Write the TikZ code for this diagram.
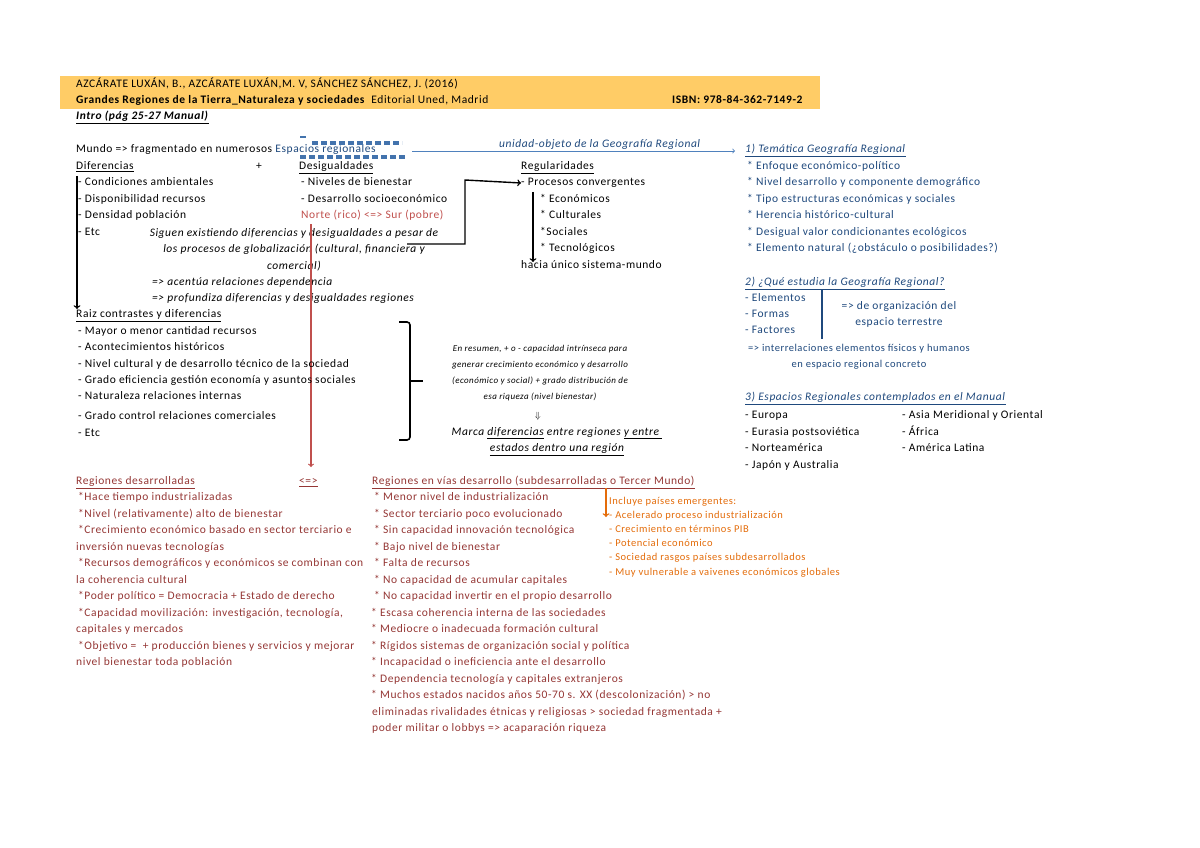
\documentclass[tikz,border=0pt]{standalone}
\usepackage{fontspec}
\setmainfont{Carlito}[LetterSpace=5]
\definecolor{hdrgold}{RGB}{255,204,102}
\definecolor{navy}{RGB}{31,73,125}
\definecolor{arrowblue}{RGB}{79,129,189}
\definecolor{brick}{RGB}{192,80,77}
\definecolor{maroon}{RGB}{149,55,53}
\definecolor{amber}{RGB}{228,108,10}
\begin{document}
\begin{tikzpicture}[x=1pt,y=-1pt,
  txt/.style={anchor=west,inner sep=0pt,text height=8pt,text depth=2.5pt,font=\fontsize{11.5}{16.5}\selectfont},
  mid/.style={inner sep=0pt,align=center,font=\fontsize{11.5}{16.5}\selectfont},
  note/.style={inner sep=0pt,align=center,font=\fontsize{9}{16.2}\selectfont\itshape},
  orng/.style={anchor=west,inner sep=0pt,text height=7pt,text depth=2pt,text=amber,font=\fontsize{10.5}{14}\selectfont},
  scribble/.style={arrowblue!75!navy,line width=3.5pt,dash pattern=on 6pt off 3pt},
  barrow/.style={->,arrowblue,thick},
  karrow/.style={->,line width=1.4pt}]
\useasboundingbox (0,0) rectangle (1200,848);
\fill[white] (0,0) rectangle (1200,848);

% header
\fill[hdrgold] (60,76) rectangle (820,109);
\node[txt] (auth) at (76,85) {AZCÁRATE LUXÁN, B., AZCÁRATE LUXÁN,M. V, SÁNCHEZ SÁNCHEZ, J. (2016)};
\node[txt] (title) at (76,101) {\textbf{Grandes Regiones de la Tierra\_Naturaleza y sociedades}\ \ Editorial Uned, Madrid};
\node[txt] (isbn) at (672,101) {\textbf{ISBN: 978-84-362-7149-2}};
\node[txt] (intro) at (76,117) {\underline{\textbf{\textit{Intro (pág 25-27 Manual)}}}};

% mundo
\node[txt] (mundo) at (76,150) {Mundo => fragmentado en numerosos \textcolor{navy}{Espacios regionales}};
\draw[scribble] (312,143) -- (402,143);
\draw[scribble] (300,157) -- (406,157);
\draw[arrowblue!75!navy,line width=2pt] (300,137) -- (306,137);
\coordinate (scrEnd) at (412,151);
\coordinate (unidad) at (735,151);
\draw[barrow] (scrEnd) -- (unidad);
\node[txt,text=navy] (uobj) at (499,145) {\itshape unidad-objeto de la Geografía Regional};

% diferencias / desigualdades
\node[txt] (dif) at (76,167) {\underline{Diferencias}};
\node[txt] (plus) at (256,167) {+};
\node[txt] (desig) at (299,167) {\underline{Desigualdades}};
\node[txt] (dif1) at (78,183) {- Condiciones ambientales};
\node[txt] (dif2) at (78,200) {- Disponibilidad recursos};
\node[txt] (dif3) at (78,216) {- Densidad población};
\node[txt] (dif4) at (78,233) {- Etc};
\node[txt] (des1) at (301,183) {- Niveles de bienestar};
\node[txt] (des2) at (301,200) {- Desarrollo socioeconómico};
\node[txt,text=brick] (norte) at (301,216) {Norte (rico) <=> Sur (pobre)};
\node[mid,font=\fontsize{11.5}{16.5}\selectfont\itshape] (glob) at (294,249.5)
  {Siguen existiendo diferencias y desigualdades a pesar de\\los procesos de globalización (cultural, financiera y\\comercial)};
\node[txt,font=\fontsize{11.5}{16.5}\selectfont\itshape] (acent) at (152,283) {=> acentúa relaciones dependencia};
\node[txt,font=\fontsize{11.5}{16.5}\selectfont\itshape] (profu) at (152,299) {=> profundiza diferencias y desigualdades regiones};

% regularidades
\node[txt] (regul) at (521,167) {\underline{Regularidades}};
\node[txt] (proc) at (521,183) {- Procesos convergentes};
\node[txt] (reg1) at (540,200) {* Económicos};
\node[txt] (reg2) at (540,216) {* Culturales};
\node[txt] (reg3) at (540,233) {*Sociales};
\node[txt] (reg4) at (540,249) {* Tecnológicos};
\node[txt] (hacia) at (521,266) {hacia único sistema-mundo};

% connectors of the upper block
\coordinate (difTop) at (77,176);
\coordinate (difBot) at (77,309);
\draw[karrow] (difTop) -- (difBot);
\coordinate (globEnd) at (407,244);
\draw[karrow] (globEnd) -| (465,180) -- (proc.west);
\coordinate (procTop) at (533,192);
\coordinate (procBot) at (533,262);
\draw[karrow] (procTop) -- (procBot);
\coordinate (norteBot) at (311,224);
\coordinate (redTip) at (311,467);
\draw[->,brick,line width=1.2pt] (norteBot) -- (redTip);

% raiz
\node[txt] (raiz) at (76,315) {\underline{Raiz contrastes y diferencias}};
\node[txt] (rz1) at (78,332) {- Mayor o menor cantidad recursos};
\node[txt] (rz2) at (78,348) {- Acontecimientos históricos};
\node[txt] (rz3) at (78,365) {- Nivel cultural y de desarrollo técnico de la sociedad};
\node[txt] (rz4) at (78,381) {- Grado eficiencia gestión economía y asuntos sociales};
\node[txt] (rz5) at (78,397) {- Naturaleza relaciones internas};
\node[txt] (rz6) at (78,417) {- Grado control relaciones comerciales};
\node[txt] (rz7) at (78,434) {- Etc};
\draw[line width=1.6pt,rounded corners=3pt] (399,322) -- (410,322) -- (410,440) -- (399,440);
\draw[line width=1.6pt] (410,381) -- (423,381);

% resumen
\node[note] (resum) at (540,373)
  {En resumen, + o - capacidad intrínseca para\\generar crecimiento económico y desarrollo\\(económico y social) + grado distribución de\\esa riqueza (nivel bienestar)};
\node[inner sep=0pt,font=\fontsize{9}{10}\selectfont] (darr) at (538,416) {$\Downarrow$};
\node[mid,font=\fontsize{11.5}{16.5}\selectfont\itshape] (marca) at (557,441.5)
  {Marca \underline{diferencias} entre regiones \underline{y entre }\\\underline{estados dentro una región}};

% right column
\node[txt,text=navy] (tema) at (745,150) {\underline{\textit{1) Temática Geografía Regional}}};
\node[txt,text=navy] (tm1) at (747,167) {* Enfoque económico-político};
\node[txt,text=navy] (tm2) at (747,183) {* Nivel desarrollo y componente demográfico};
\node[txt,text=navy] (tm3) at (747,200) {* Tipo estructuras económicas y sociales};
\node[txt,text=navy] (tm4) at (747,216) {* Herencia histórico-cultural};
\node[txt,text=navy] (tm5) at (747,233) {* Desigual valor condicionantes ecológicos};
\node[txt,text=navy] (tm6) at (747,249) {* Elemento natural (¿obstáculo o posibilidades?)};

\node[txt,text=navy] (estud) at (745,283) {\underline{\textit{2) ¿Qué estudia la Geografía Regional?}}};
\node[txt,text=navy] (el1) at (745,299) {- Elementos};
\node[txt,text=navy] (el2) at (745,315) {- Formas};
\node[txt,text=navy] (el3) at (745,331) {- Factores};
\coordinate (barTop) at (822,290);
\coordinate (barBot) at (822,339);
\draw[navy,line width=1.6pt] (barTop) -- (barBot);
\node[mid,text=navy] (organ) at (899,314.5) {=> de organización del\\espacio terrestre};
\node[inner sep=0pt,align=center,text=navy,font=\fontsize{10.5}{16}\selectfont] (inter) at (859,357)
  {=> interrelaciones elementos físicos y humanos\\en espacio regional concreto};

\node[txt,text=navy] (espac) at (745,398) {\underline{\textit{3) Espacios Regionales contemplados en el Manual}}};
\node[txt] (es1) at (745,416) {- Europa};
\node[txt] (es2) at (745,433) {- Eurasia postsoviética};
\node[txt] (es3) at (745,449) {- Norteamérica};
\node[txt] (es4) at (745,466) {- Japón y Australia};
\node[txt] (es5) at (902,416) {- Asia Meridional y Oriental};
\node[txt] (es6) at (902,433) {- África};
\node[txt] (es7) at (902,449) {- América Latina};

% regiones desarrolladas
\begin{scope}[every node/.append style={text=maroon}]
\node[txt] (desar) at (76,482) {\underline{Regiones desarrolladas}};
\node[txt] (equiv) at (299,482) {\underline{<=>}};
\node[txt] (dz1) at (78,498) {*Hace tiempo industrializadas};
\node[txt] (dz2) at (78,515) {*Nivel (relativamente) alto de bienestar};
\node[txt] (dz3) at (78,531) {*Crecimiento económico basado en sector terciario e};
\node[txt] (dz3b) at (76,548) {inversión nuevas tecnologías};
\node[txt] (dz4) at (78,564) {*Recursos demográficos y económicos se combinan con};
\node[txt] (dz4b) at (76,581) {la coherencia cultural};
\node[txt] (dz5) at (78,597) {*Poder político = Democracia + Estado de derecho};
\node[txt] (dz6) at (78,614) {*Capacidad movilización: investigación, tecnología,};
\node[txt] (dz6b) at (76,630) {capitales y mercados};
\node[txt] (dz7) at (78,647) {*Objetivo = \ + producción bienes y servicios y mejorar};
\node[txt] (dz7b) at (76,663) {nivel bienestar toda población};

% regiones en vias de desarrollo
\node[txt] (vias) at (372,482) {\underline{Regiones en vías desarrollo (subdesarrolladas o Tercer Mundo)}};
\node[txt] (vs1) at (374,498) {* Menor nivel de industrialización};
\node[txt] (vs2) at (374,515) {* Sector terciario poco evolucionado};
\node[txt] (vs3) at (374,531) {* Sin capacidad innovación tecnológica};
\node[txt] (vs4) at (374,548) {* Bajo nivel de bienestar};
\node[txt] (vs5) at (374,564) {* Falta de recursos};
\node[txt] (vs6) at (374,581) {* No capacidad de acumular capitales};
\node[txt] (vs7) at (374,597) {* No capacidad invertir en el propio desarrollo};
\node[txt] (vs8) at (371,614) {* Escasa coherencia interna de las sociedades};
\node[txt] (vs9) at (371,630) {* Mediocre o inadecuada formación cultural};
\node[txt] (vs10) at (371,647) {* Rígidos sistemas de organización social y política};
\node[txt] (vs11) at (371,663) {* Incapacidad o ineficiencia ante el desarrollo};
\node[txt] (vs12) at (371,680) {* Dependencia tecnología y capitales extranjeros};
\node[txt] (vs13) at (371,696) {* Muchos estados nacidos años 50-70 s. XX (descolonización) > no};
\node[txt] (vs13b) at (372,713) {eliminadas rivalidades étnicas y religiosas > sociedad fragmentada +};
\node[txt] (vs13c) at (372,729) {poder militar o lobbys => acaparación riqueza};
\end{scope}

% emergentes
\coordinate (emTop) at (606,488);
\coordinate (emTip) at (606,517);
\draw[->,amber,line width=1.4pt] (emTop) -- (emTip);
\node[orng] (emer) at (609,502) {Incluye países emergentes:};
\node[orng] (em1) at (609,516) {- Acelerado proceso industrialización};
\node[orng] (em2) at (609,530) {- Crecimiento en términos PIB};
\node[orng] (em3) at (609,544) {- Potencial económico};
\node[orng] (em4) at (609,558) {- Sociedad rasgos países subdesarrollados};
\node[orng] (em5) at (609,573) {- Muy vulnerable a vaivenes económicos globales};
\end{tikzpicture}
\end{document}
